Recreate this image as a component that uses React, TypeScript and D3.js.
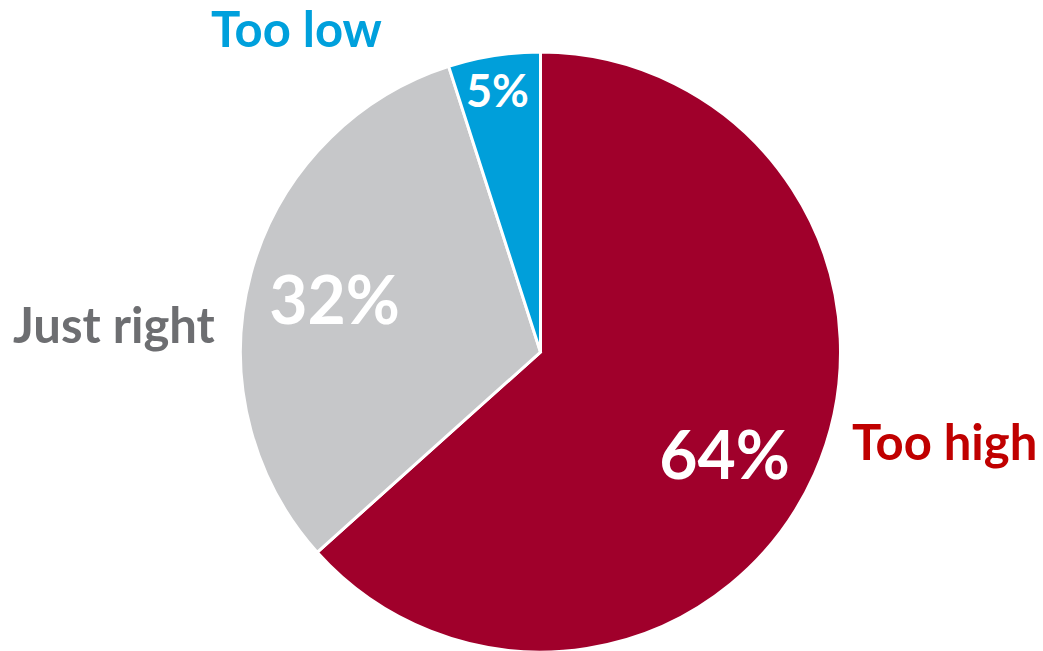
import React from "react";
import * as d3 from "d3";

const categories = ["Too high", "Just right", "Too low"];
const values = [64, 32, 5];
const sliceColors = ["#A0002B", "#C6C7C9", "#009FDA"];
const labelColors = ["#C00000", "#6D6E71", "#00A0DC"];
const valueLabels = ["64%", "32%", "5%"];

const W = 1043;
const H = 651;
const CX = 540.5;
const CY = 352;
const R = 300;

// value label centre x and baseline y (absolute), font sizes
const innerPos: [number, number][] = [
  [724.5, 479],
  [334.5, 324],
  [497.5, 107],
];
const innerSize = [66, 66, 45];
// category label positions
const outerPos: [number, number][] = [
  [852, 460],
  [13, 343],
  [211, 47],
];

export default function App() {
  const pie = d3.pie<number>().sort(null).value((d) => d);
  const arcs = pie(values);
  const arc = d3.arc<d3.PieArcDatum<number>>().innerRadius(0).outerRadius(R);
  const font = "Lato, 'Open Sans', sans-serif";
  return (
    <svg
      width={W}
      height={H}
      style={{ position: "absolute", left: 0, top: 0, background: "#fff" }}
    >
      <g transform={`translate(${CX},${CY})`}>
        {arcs.map((a, i) => (
          <path key={i} d={arc(a) || ""} fill={sliceColors[i]} stroke="#fff" strokeWidth={3} strokeLinejoin="miter" />
        ))}
      </g>
      {valueLabels.map((v, i) => (
        <text
          key={"v" + i}
          x={innerPos[i][0]}
          y={innerPos[i][1]}
          textAnchor="middle"
          fill="#fff"
          fontFamily={font}
          fontWeight={700}
          fontSize={innerSize[i]}
        >
          {v}
        </text>
      ))}
      {categories.map((c, i) => (
        <text
          key={"c" + i}
          x={outerPos[i][0]}
          y={outerPos[i][1]}
          textAnchor="start"
          fill={labelColors[i]}
          fontFamily={font}
          fontWeight={700}
          fontSize={49}
        >
          {c}
        </text>
      ))}
    </svg>
  );
}
